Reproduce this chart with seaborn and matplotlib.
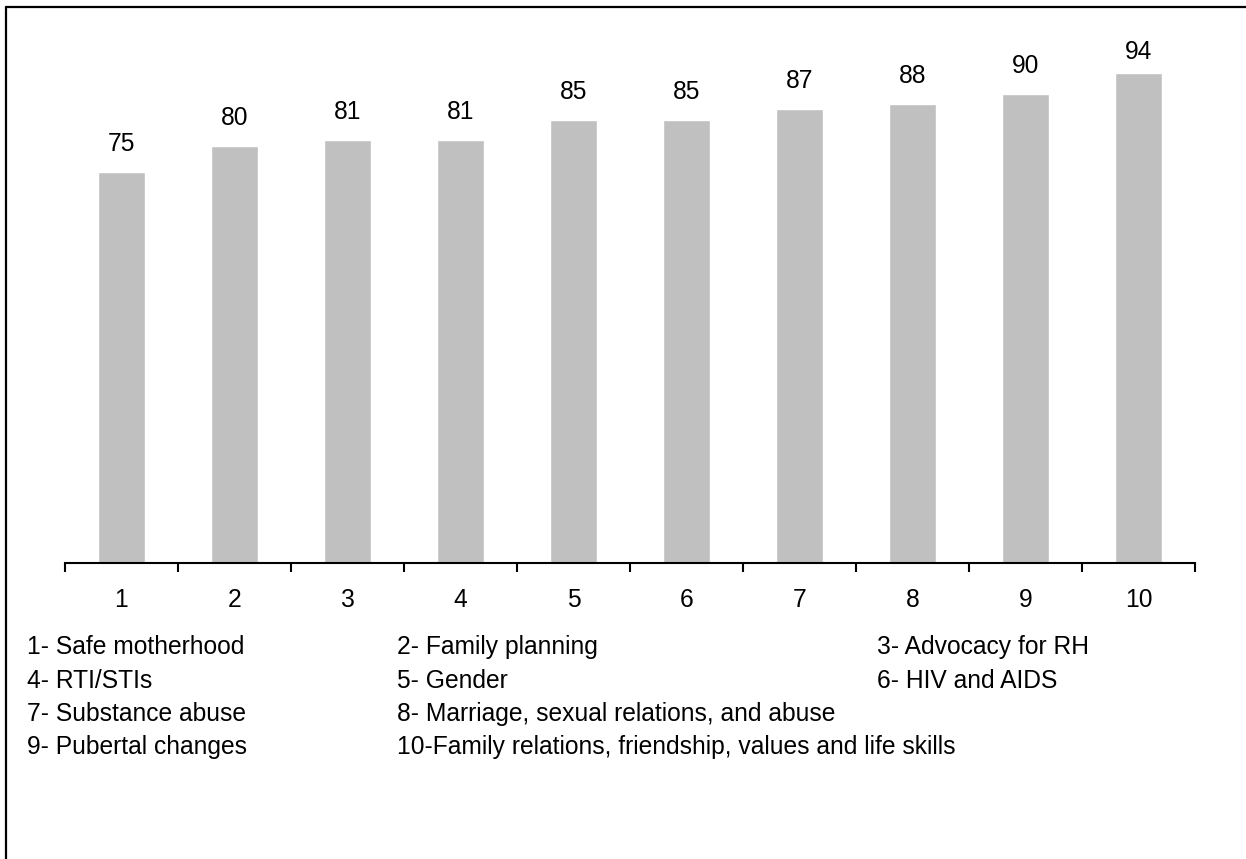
import matplotlib
matplotlib.use("Agg")
import matplotlib.pyplot as plt
from matplotlib.lines import Line2D
import seaborn as sns
import pandas as pd

categories = ["1", "2", "3", "4", "5", "6", "7", "8", "9", "10"]
values = [75, 80, 81, 81, 85, 85, 87, 88, 90, 94]
legend_rows = [
    ["1- Safe motherhood", "2- Family planning", "3- Advocacy for RH"],
    ["4- RTI/STIs", "5- Gender", "6- HIV and AIDS"],
    ["7- Substance abuse", "8- Marriage, sexual relations, and abuse", None],
    ["9- Pubertal changes", "10-Family relations, friendship, values and life skills", None],
]

sns.set_theme(style="white")
plt.rcParams["font.family"] = ["Liberation Sans", "DejaVu Sans"]

W, H = 1246, 859
fig = plt.figure(figsize=(W / 100, H / 100), dpi=100)
fig.patch.set_facecolor("white")

top_px, base_px = 41.5, 562.5
ax_left, ax_right = 65 / W, 1195 / W
ax_bottom = 1 - base_px / H
ax_top = 1 - top_px / H
ax = fig.add_axes([ax_left, ax_bottom, ax_right - ax_left, ax_top - ax_bottom])

df = pd.DataFrame({"cat": categories, "val": values})
sns.barplot(data=df, x="cat", y="val", color="#c0c0c0", width=0.41,
            saturation=1, ax=ax, order=categories)

ymax = 100
ax.set_ylim(0, ymax)
ax.set_xlim(-0.5, len(categories) - 0.5)
ax.set_xlabel("")
ax.set_ylabel("")
ax.set_yticks([])
for s in ["top", "right", "left"]:
    ax.spines[s].set_visible(False)
ax.spines["bottom"].set_linewidth(1.5)
ax.spines["bottom"].set_color("black")

fs = 17.7
ax.set_xticks([i - 0.5 for i in range(len(categories) + 1)])
ax.set_xticklabels([""] * (len(categories) + 1))
ax.set_xticks(range(len(categories)), minor=True)
ax.set_xticklabels(categories, minor=True, fontsize=fs)
ax.tick_params(axis="x", which="major", direction="out", length=6.5, width=1.5,
               color="black", bottom=True)
ax.tick_params(axis="x", which="minor", length=0, pad=18.5, labelcolor="black")

# value labels: 21 px above bar, clamped inside the plot area (like Excel)
px_per_unit = (base_px - top_px) / ymax
gap_units = 21 / px_per_unit
cap_units = 17.5 / px_per_unit
for p, v in zip(ax.patches, values):
    y_lab = min(p.get_height() + gap_units, ymax - cap_units)
    ax.text(p.get_x() + p.get_width() / 2, y_lab, f"{v}",
            ha="center", va="baseline", fontsize=fs, color="black")

col_x = [27, 397, 877]
row_y = [647, 681, 714, 747]
for r, row in enumerate(legend_rows):
    for c, txt in enumerate(row):
        if txt:
            fig.text(col_x[c] / W, 1 - row_y[r] / H, txt, fontsize=fs,
                     ha="left", va="center", color="black")

# outer frame (top and left visible, extends past right/bottom edges)
fig.add_artist(Line2D([6 / W, 1.01], [1 - 6.5 / H, 1 - 6.5 / H],
                      transform=fig.transFigure, color="black", lw=1.6))
fig.add_artist(Line2D([6 / W, 6 / W], [1 - 6.5 / H, -0.01],
                      transform=fig.transFigure, color="black", lw=1.6))

fig.savefig("out.png", dpi=100, facecolor="white")
